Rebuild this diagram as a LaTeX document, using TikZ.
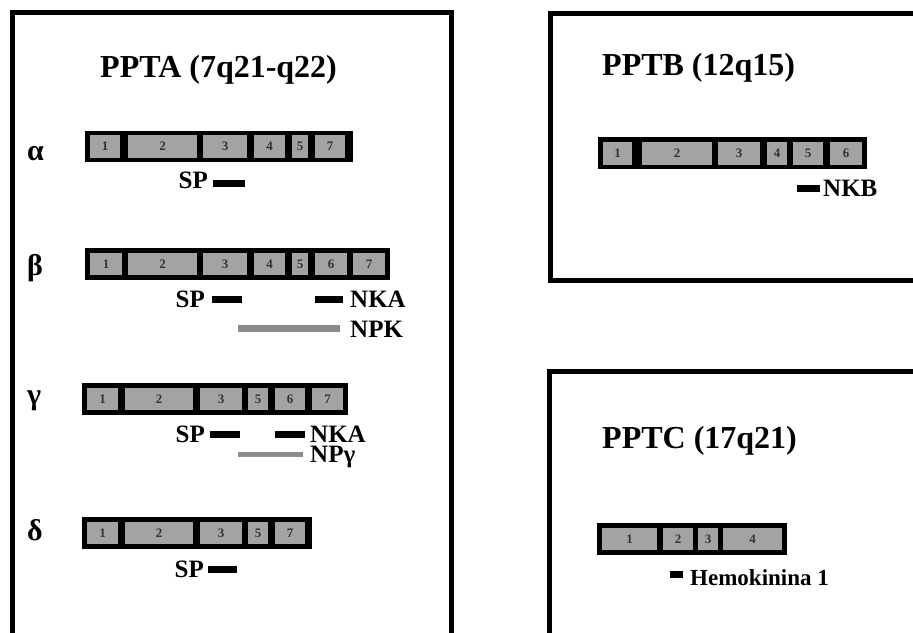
\documentclass[tikz,border=0pt]{standalone}
\usepackage{fontspec}
\setmainfont{Liberation Serif}
\begin{document}
\begin{tikzpicture}[x=1pt,y=-1pt,
  frame/.style={line width=5pt, draw=black},
  title/.style={font=\fontsize{32}{32}\selectfont\bfseries, inner sep=0pt, anchor=base west},
  greek/.style={font=\fontsize{30}{30}\selectfont\bfseries, inner sep=0pt, anchor=base west},
  pep/.style={font=\fontsize{25}{25}\selectfont\bfseries, inner sep=0pt, text depth=0pt},
  small/.style={font=\fontsize{23}{23}\selectfont\bfseries, inner sep=0pt},
  genebar/.style={fill=black, draw=none, inner sep=0pt, outer sep=0pt},
  exon/.style={fill=black!36, draw=none, inner sep=0pt, outer sep=0pt,
    font=\fontsize{13}{13}\selectfont\bfseries, text=black!80},
  pepbar/.style={fill=black, draw=none, inner sep=0pt, outer sep=0pt},
  npline/.style={fill=black!45, draw=none, inner sep=0pt, outer sep=0pt}
]
\useasboundingbox (0,0) rectangle (913,632);
\fill[white] (0,0) rectangle (913,632);

% macros
\newcommand{\blk}[6]{\node[#1, minimum width={(#4-#3)*1pt}, minimum height={(#6-#5)*1pt}] (#2) at ({(#3+#4)/2},{(#5+#6)/2}) {};}
\newcommand{\exn}[6]{\node[exon, minimum width={(#2-#1)*1pt}, minimum height={(#4-#3)*1pt}] (#5) at ({(#1+#2)/2},{(#3+#4)/2}) {#6};}

% frames
\draw[frame] (12,645) -- (12,12) -- (451,12) -- (451,645);
\draw[frame] (930,13) -- (550,13) -- (550,280) -- (930,280);
\draw[frame] (930,371) -- (549,371) -- (549,645);

% ---------------- PPTA ----------------
\node[title] (tA) at (100,77) {PPTA (7q21-q22)};

% alpha
\node[greek] (ga) at (27,160) {α};
\blk{genebar}{barA}{85}{353}{131}{162}
\exn{90}{120}{135}{158}{a1}{1}
\exn{128}{197}{135}{158}{a2}{2}
\exn{203}{247}{135}{158}{a3}{3}
\exn{254}{285}{135}{158}{a4}{4}
\exn{292}{308}{135}{158}{a5}{5}
\exn{315}{345}{135}{158}{a7}{7}
\node[pep, anchor=base east] (aSP) at (208,188) {SP};
\blk{pepbar}{aSPb}{213}{245}{180}{187}

% beta
\node[greek] (gb) at (27,275) {β};
\blk{genebar}{barB}{85}{390}{248}{280}
\exn{90}{122}{253}{275}{b1}{1}
\exn{128}{197}{253}{275}{b2}{2}
\exn{203}{247}{253}{275}{b3}{3}
\exn{254}{285}{253}{275}{b4}{4}
\exn{292}{308}{253}{275}{b5}{5}
\exn{315}{347}{253}{275}{b6}{6}
\exn{353}{385}{253}{275}{b7}{7}
\node[pep, anchor=base east] (bSP) at (205,307) {SP};
\blk{pepbar}{bSPb}{212}{242}{296}{303}
\blk{pepbar}{bNKAb}{315}{343}{296}{303}
\node[pep, anchor=base west] (bNKA) at (350,307) {NKA};
\blk{npline}{bNPKb}{238}{340}{325}{332}
\node[pep, anchor=base west] (bNPK) at (350,337) {NPK};

% gamma
\node[greek] (gg) at (27,404) {γ};
\blk{genebar}{barG}{82}{348}{383}{415}
\exn{87}{118}{388}{410}{c1}{1}
\exn{125}{193}{388}{410}{c2}{2}
\exn{200}{242}{388}{410}{c3}{3}
\exn{248}{268}{388}{410}{c5}{5}
\exn{275}{305}{388}{410}{c6}{6}
\exn{312}{343}{388}{410}{c7}{7}
\node[pep, anchor=base east] (cSP) at (205,442) {SP};
\blk{pepbar}{cSPb}{210}{240}{431}{438}
\blk{pepbar}{cNKAb}{275}{305}{431}{438}
\node[pep, anchor=base west] (cNKA) at (310,442) {NKA};
\blk{npline}{cNPb}{238}{303}{452}{457}
\node[pep, anchor=base west] (cNP) at (310,462) {NPγ};

% delta
\node[greek] (gd) at (27,540) {δ};
\blk{genebar}{barD}{82}{312}{517}{549}
\exn{87}{118}{522}{544}{d1}{1}
\exn{125}{193}{522}{544}{d2}{2}
\exn{200}{242}{522}{544}{d3}{3}
\exn{248}{268}{522}{544}{d5}{5}
\exn{275}{305}{522}{544}{d7}{7}
\node[pep, anchor=base east] (dSP) at (204,577) {SP};
\blk{pepbar}{dSPb}{208}{237}{566}{573}

% ---------------- PPTB ----------------
\node[title] (tB) at (602,75) {PPTB (12q15)};
\blk{genebar}{barPB}{598}{867}{137}{169}
\exn{603}{632}{142}{165}{e1}{1}
\exn{642}{712}{142}{165}{e2}{2}
\exn{718}{760}{142}{165}{e3}{3}
\exn{767}{787}{142}{165}{e4}{4}
\exn{793}{823}{142}{165}{e5}{5}
\exn{830}{862}{142}{165}{e6}{6}
\blk{pepbar}{NKBb}{797}{820}{185}{192}
\node[pep, anchor=base west] (NKB) at (823,196) {NKB};

% ---------------- PPTC ----------------
\node[title] (tC) at (602,448) {PPTC (17q21)};
\blk{genebar}{barPC}{597}{787}{523}{555}
\exn{602}{657}{528}{550}{f1}{1}
\exn{663}{693}{528}{550}{f2}{2}
\exn{698}{718}{528}{550}{f3}{3}
\exn{723}{782}{528}{550}{f4}{4}
\blk{pepbar}{HKb}{670}{683}{571}{578}
\node[small, anchor=base west] (HK) at (690,585) {Hemokinina 1};
\end{tikzpicture}
\end{document}
